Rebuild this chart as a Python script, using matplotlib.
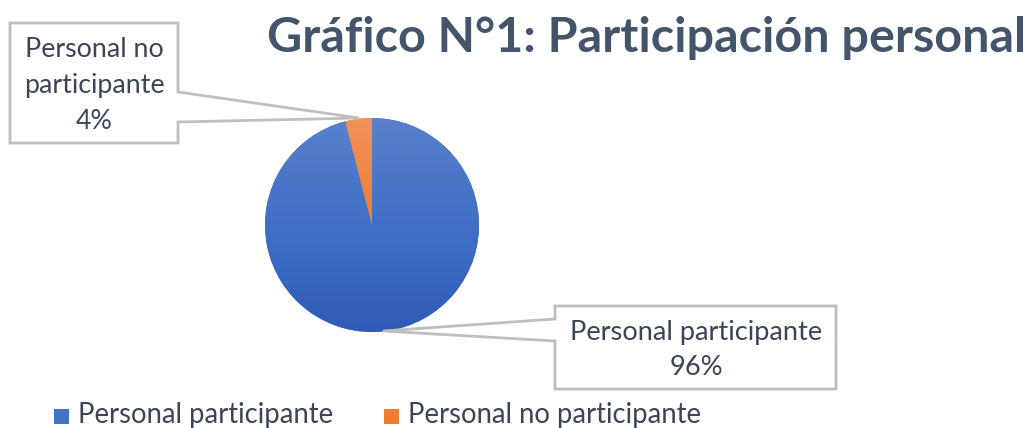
import numpy as np
import matplotlib
matplotlib.use("Agg")
import matplotlib.pyplot as plt
from matplotlib.patches import Polygon
from matplotlib.colors import LinearSegmentedColormap

# ---- data ----
title = "Gráfico N°1: Participación personal"
categories = ["Personal participante", "Personal no participante"]
values = [96, 4]
callout_labels = ["Personal participante", "Personal no\nparticipante"]

W, H = 1031, 428
FONT = "Lato"
TXT = "#3B4556"
TITLE_C = "#44546A"
BOX_C = "#BFBFBF"

plt.rcParams['font.family'] = [FONT, 'DejaVu Sans']

fig = plt.figure(figsize=(W / 100, H / 100), dpi=100)
ax = fig.add_axes([0, 0, 1, 1])

def Y(py):
    return H - py

cx, cy, r = 372, Y(225), 107
base_colors = ["#4472C4", "#ED7D31"]
grads = [["#5A80CC", "#4070C6", "#2E5CB6"], ["#F0935A", "#ED7D31", "#E06A1A"]]

wedges, _ = ax.pie(values, startangle=90, counterclock=False, center=(cx, cy),
                   radius=r, colors=base_colors, frame=True,
                   wedgeprops=dict(linewidth=0))
for w, g in zip(wedges, grads):
    cmap = LinearSegmentedColormap.from_list("g", g)
    grad = np.linspace(0, 1, 256).reshape(-1, 1)
    im = ax.imshow(grad, cmap=cmap, extent=(cx - r, cx + r, cy - r, cy + r),
                   origin="upper", aspect="auto", zorder=2)
    im.set_clip_path(w)

ax.set_xlim(0, W)
ax.set_ylim(0, H)
ax.set_aspect("auto")
ax.axis("off")

fig.canvas.draw()
renderer = fig.canvas.get_renderer()

def fit_text(x, y, s, target_w, ha="center", va="center", **kw):
    t = ax.text(x, y, s, ha=ha, va=va, fontsize=20, **kw)
    w = t.get_window_extent(renderer).width
    t.set_fontsize(20 * target_w / w)
    return t

# title
fit_text(267, Y(52), title, 759, ha="left", va="baseline",
         fontweight="bold", color=TITLE_C, zorder=5)

# callouts
total = sum(values)
pcts = [f"{v / total * 100:.0f}%" for v in values]

left_poly = [(10, 23), (178, 23), (178, 92), (359, 118), (178, 122),
             (178, 143), (10, 143)]
right_poly = [(555, 306), (836, 306), (836, 389), (555, 389), (555, 341),
              (383, 331), (555, 319)]
for poly in (left_poly, right_poly):
    ax.add_patch(Polygon([(x, Y(y)) for x, y in poly], closed=True,
                         facecolor="white", edgecolor=BOX_C, linewidth=2,
                         zorder=4))

t = fit_text(94, Y(85), callout_labels[1] + "\n" + pcts[1], 141,
             color=TXT, zorder=6, linespacing=1.55)
t2 = fit_text(696, Y(350), callout_labels[0] + "\n" + pcts[0], 254,
              color=TXT, zorder=6, linespacing=1.5)

# legend
leg_size = t2.get_fontsize() * 1.01
sq = 15
for i, (cat, col) in enumerate(zip(categories, base_colors)):
    x0 = [54, 384][i]
    ax.add_patch(plt.Rectangle((x0, Y(424)), sq, sq, facecolor=col,
                               edgecolor="none", zorder=5))
    ax.text(x0 + 24, Y(415), cat, ha="left", va="center",
            fontsize=leg_size, color=TXT, zorder=6)

fig.savefig("out.png", dpi=100)
